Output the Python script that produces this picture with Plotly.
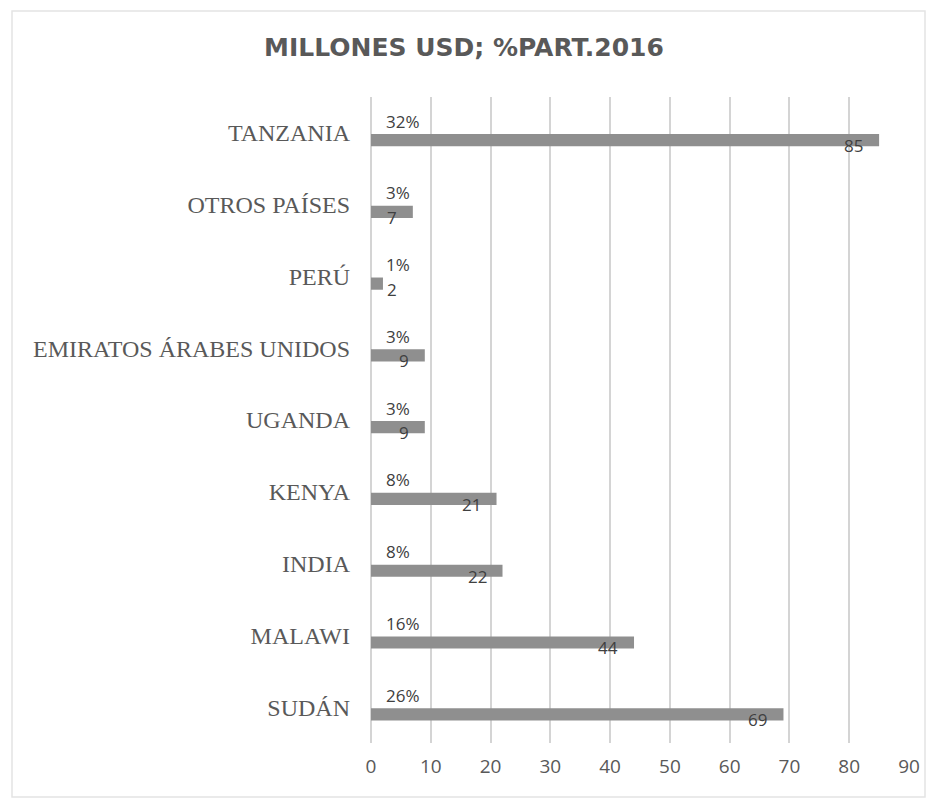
import plotly.graph_objects as go

categories = ["SUDÁN", "MALAWI", "INDIA", "KENYA", "UGANDA",
              "EMIRATOS ÁRABES UNIDOS", "PERÚ", "OTROS PAÍSES", "TANZANIA"]
values = [69, 44, 22, 21, 9, 9, 2, 7, 85]
shares = ["26%", "16%", "8%", "8%", "3%", "3%", "1%", "3%", "32%"]
x_ticks = [0, 10, 20, 30, 40, 50, 60, 70, 80, 90]

# layout geometry (figure pixels)
W, H = 940, 798
L, R, T, B = 363, 39, 89, 63
plot_w = W - L - R
plot_h = H - T - B
px_per_unit = plot_w / 90.0
BAR_W = 0.17
BAR_SHIFT = -0.1  # bars sit slightly below the category label centre

fig = go.Figure()
fig.add_trace(go.Bar(
    y=categories, x=values, orientation="h",
    marker=dict(color="#8f8f8f", line=dict(width=0)),
    width=BAR_W, offset=BAR_SHIFT - BAR_W / 2, hoverinfo="x+y",
))

annotations = []
lab_font = dict(family="Open Sans, sans-serif", size=17, color="#404040")
for i, (c, v, s) in enumerate(zip(categories, values, shares)):
    annotations.append(dict(
        x=0, y=i + BAR_SHIFT + 0.265, xref="x", yref="y", text=s, showarrow=False,
        xanchor="left", yanchor="middle", xshift=13, font=lab_font))
    label_w = 11 * len(str(v))
    end_px = v * px_per_unit - 16
    if end_px - label_w < 14:
        annotations.append(dict(
            x=0, y=i + BAR_SHIFT - 0.075, xref="x", yref="y", text=str(v), showarrow=False,
            xanchor="left", yanchor="middle", xshift=14, font=lab_font))
    else:
        annotations.append(dict(
            x=v, y=i + BAR_SHIFT - 0.075, xref="x", yref="y", text=str(v), showarrow=False,
            xanchor="right", yanchor="middle", xshift=-14, font=lab_font))

fig.update_layout(
    width=W, height=H,
    margin=dict(l=L, r=R, t=T, b=B),
    paper_bgcolor="white", plot_bgcolor="white",
    title=dict(text="<b>MILLONES USD; %PART.2016</b>", x=456 / W, xref="container",
               y=1 - 39 / H, yref="container", yanchor="middle", xanchor="center",
               font=dict(family="DejaVu Sans, sans-serif", size=25, color="#595959")),
    xaxis=dict(range=[0, 90], tickvals=x_ticks, showgrid=True, gridcolor="#d4d4d4",
               gridwidth=1.5, zeroline=True, zerolinecolor="#d4d4d4", showline=False,
               tickfont=dict(family="Open Sans, sans-serif", size=19, color="#595959"),
               ticks="", ticklabelstandoff=10, fixedrange=True),
    yaxis=dict(categoryorder="array", categoryarray=categories, range=[-0.5, 8.5],
               showgrid=False, showline=False, ticks="", ticklabelstandoff=20,
               tickfont=dict(family="Liberation Serif, Times New Roman, serif", size=24,
                             color="#595959")),
    showlegend=False,
    annotations=annotations,
    shapes=[dict(type="rect", xref="paper", yref="paper",
                 x0=(12 - 371) / plot_w, x1=(925 - 371) / plot_w,
                 y0=(743 - 797) / plot_h, y1=(743 - 11) / plot_h,
                 line=dict(color="#e4e4e4", width=1.5), layer="below")],
)

fig.write_html("out.html")
